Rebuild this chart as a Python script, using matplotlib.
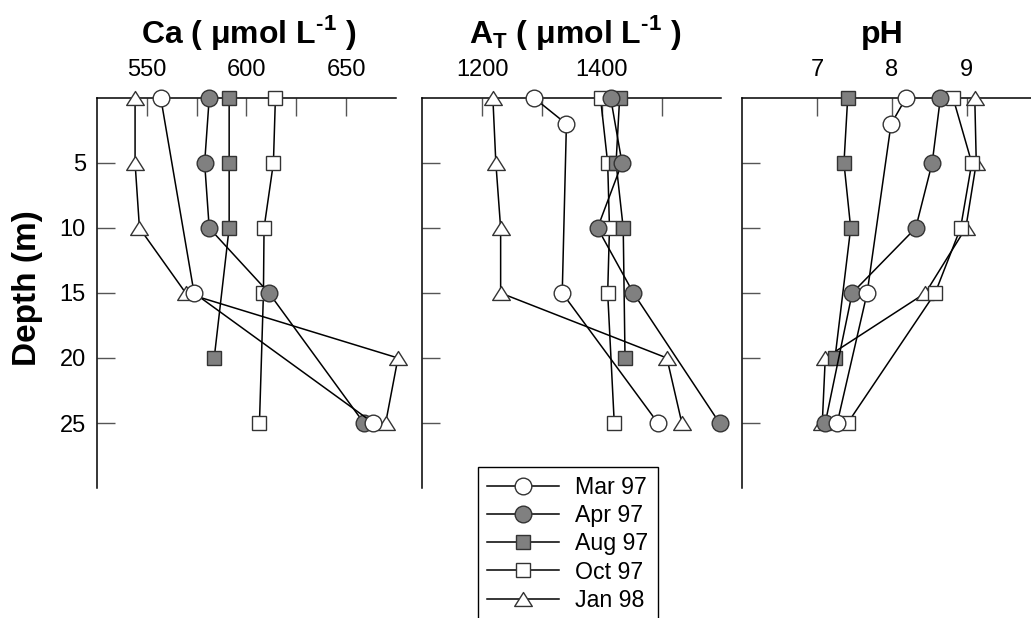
import numpy as np
import matplotlib
matplotlib.use("Agg")
import matplotlib.pyplot as plt
from matplotlib.lines import Line2D
from matplotlib.path import Path

plt.rcParams['font.family'] = ['Liberation Sans', 'DejaVu Sans']
plt.rcParams['mathtext.fontset'] = 'custom'
plt.rcParams['mathtext.rm'] = 'Liberation Sans'
plt.rcParams['mathtext.bf'] = 'Liberation Sans:bold'

# depth grid (m); NaN = no sample
depth = [0, 2, 5, 10, 15, 20, 25]
nan = np.nan

series = ["Mar 97", "Apr 97", "Aug 97", "Oct 97", "Jan 98"]

ca = {
    "Mar 97": [557.0, nan, nan, nan, 573.7, nan, 663.6],
    "Apr 97": [581.3, nan, 579.0, 581.3, 611.3, nan, 658.9],
    "Aug 97": [591.3, nan, 591.3, 591.3, nan, 583.8, nan],
    "Oct 97": [614.5, nan, 613.5, 608.8, 608.5, nan, 606.5],
    "Jan 98": [544.1, nan, 544.1, 546.3, 569.5, 676.0, 669.8],
}
at = {
    "Mar 97": [1287, 1341, nan, nan, 1334, nan, 1494],
    "Apr 97": [1415, nan, 1434, 1393, 1453, nan, 1597],
    "Aug 97": [1430, nan, 1424, 1436, nan, 1439, nan],
    "Oct 97": [1398, nan, 1410, 1413, 1410, nan, 1421],
    "Jan 98": [1218, nan, 1223, 1231, 1231, 1509, 1534],
}
ph = {
    "Mar 97": [8.19, 7.99, nan, nan, 7.67, nan, 7.27],
    "Apr 97": [8.65, nan, 8.54, 8.32, 7.47, nan, 7.11],
    "Aug 97": [7.41, nan, 7.36, 7.45, nan, 7.24, nan],
    "Oct 97": [8.82, nan, 9.07, 8.92, 8.58, nan, 7.41],
    "Jan 98": [9.11, nan, 9.13, 8.99, 8.45, 7.11, 7.07],
}

GRAY = "#808080"
EDGE = "#333333"
# wide, flat triangle like the original
TRI = Path([(-1, -0.79), (1, -0.79), (0, 0.79), (-1, -0.79)],
           [Path.MOVETO, Path.LINETO, Path.LINETO, Path.CLOSEPOLY])
style = {
    "Mar 97": dict(marker="o", ms=12, mfc="white"),
    "Apr 97": dict(marker="o", ms=12, mfc=GRAY),
    "Aug 97": dict(marker="s", ms=10, mfc=GRAY),
    "Oct 97": dict(marker="s", ms=10, mfc="white"),
    "Jan 98": dict(marker=TRI, ms=12.7, mfc="white"),
}
zord = {"Mar 97": 8, "Apr 97": 7, "Aug 97": 6, "Oct 97": 5, "Jan 98": 4}

W, H = 1031, 618
fig = plt.figure(figsize=(W / 100, H / 100), dpi=100)

UNIT = " ( μmol L$^{\\bf \u2010 1}$ )"
panels = [
    (ca, 97, (525, 675), [550, 600, 650], [575, 625], "Ca" + UNIT, 249),
    (at, 422.3, (1100, 1600), [1200, 1400], [1300, 1500], "A$_{\\bf T}$" + UNIT, 575),
    (ph, 742.3, (6, 10), [7, 8, 9], [], "pH", 882),
]

d = np.array(depth, dtype=float)
for i, (data, x0, xlim, major, minor, title, tx) in enumerate(panels):
    ax = fig.add_axes([x0 / W, 1 - 488 / H, 299 / W, 390 / H])
    for name in series:
        v = np.array(data[name], dtype=float)
        m = ~np.isnan(v)
        ax.plot(v[m], d[m], color="black", lw=1.1, mec=EDGE, mew=1.0,
                clip_on=False, zorder=zord[name], **style[name])
    ax.set_xlim(*xlim)
    ax.set_ylim(30, 0)
    ax.xaxis.tick_top()
    ax.set_xticks(major)
    ax.set_xticks(minor, minor=True)
    ax.tick_params(axis="x", which="both", direction="in", length=13, width=1,
                   color="#555555", labelsize=17, pad=12)
    ax.set_yticks([5, 10, 15, 20, 25])
    ax.tick_params(axis="y", direction="in", length=13, width=1,
                   color="#555555", labelsize=17, pad=8)
    if i > 0:
        ax.set_yticklabels([])
    for s in ["right", "bottom"]:
        ax.spines[s].set_visible(False)
    for s in ["top", "left"]:
        ax.spines[s].set_linewidth(1.1)
    ax.patch.set_alpha(0)
    fig.text(tx / W, 1 - 43.5 / H, title, ha="center", va="baseline",
             fontsize=23, fontweight="bold")

fig.text(27.5 / W, 1 - 288 / H, "Depth (m)", rotation=90, ha="center",
         va="center", fontsize=24, fontweight="bold")

handles = [Line2D([], [], color="black", lw=1.1, mec=EDGE, mew=1.0, **style[n])
           for n in series]
leg = fig.legend(handles, series, loc="upper left",
                 bbox_to_anchor=(478 / W, 1 - 467 / H), borderaxespad=0,
                 fontsize=16.7, handlelength=3.1, handletextpad=0.69,
                 labelspacing=0.22, borderpad=0.4, fancybox=False,
                 edgecolor="black", framealpha=1)
leg.get_frame().set_linewidth(1.0)

fig.savefig("out.png", dpi=100)
